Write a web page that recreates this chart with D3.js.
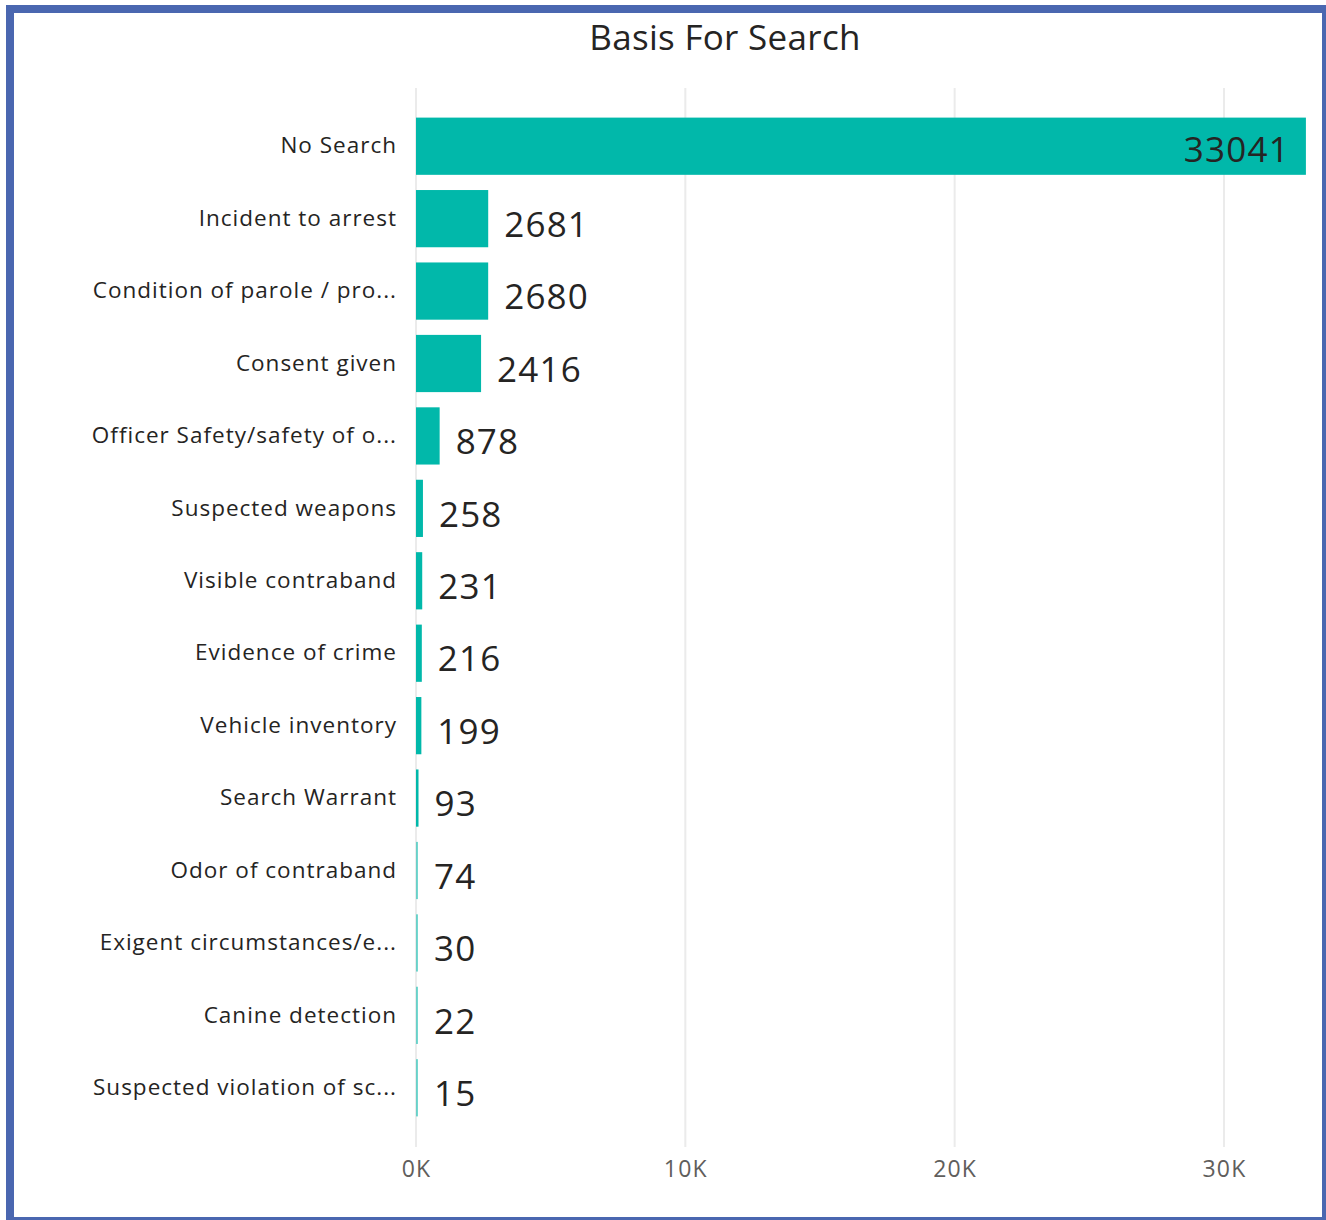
<!DOCTYPE html>
<html><head><meta charset="utf-8">
<script src="https://cdn.jsdelivr.net/npm/d3@7"></script>
<style>
html,body{margin:0;padding:0;background:#fff;}
svg{display:block;font-family:"Segoe UI","Open Sans","Noto Sans",sans-serif;}
</style></head>
<body>
<svg id="chart" width="1326" height="1220"></svg>
<script>
const categories = ["No Search","Incident to arrest","Condition of parole / pro...","Consent given","Officer Safety/safety of o...","Suspected weapons","Visible contraband","Evidence of crime","Vehicle inventory","Search Warrant","Odor of contraband","Exigent circumstances/e...","Canine detection","Suspected violation of sc..."];
const values = [33041,2681,2680,2416,878,258,231,216,199,93,74,30,22,15];
const tickValues = [0,10000,20000,30000];
const tickLabels = ["0K","10K","20K","30K"];
const title = "Basis For Search";

const svg = d3.select("#chart");
const FF = "'Segoe UI','Open Sans','Noto Sans',sans-serif";

// frame
svg.append("rect").attr("x",10).attr("y",9).attr("width",1316).attr("height",1212)
  .attr("fill","none").attr("stroke","#4a67b0").attr("stroke-width",8);

svg.append("text").attr("x",725).attr("y",50).attr("text-anchor","middle")
  .attr("font-size",35).attr("fill","#252423").attr("letter-spacing",0.3).text(title);

const x = d3.scaleLinear().domain([0,30000]).range([416,1224]);
const y = d3.scaleBand().domain(categories).range([110,1124]).paddingInner(0.21).paddingOuter(0.105);

// gridlines
svg.append("g").selectAll("line").data(tickValues).join("line")
  .attr("x1",d=>x(d)).attr("x2",d=>x(d)).attr("y1",88).attr("y2",1147)
  .attr("stroke","#ebebeb").attr("stroke-width",2);

// x axis labels
const xAxis = d3.axisBottom(x).tickValues(tickValues).tickFormat((d,i)=>tickLabels[i]).tickSize(0).tickPadding(0);
const gx = svg.append("g").attr("transform","translate(0,1154)").call(xAxis);
gx.select(".domain").remove();
gx.selectAll("text").attr("font-size",23).attr("fill","#605e5c").attr("dy","1.0em")
  .attr("letter-spacing",1.2).style("font-family",FF);

// y axis labels
const yAxis = d3.axisLeft(y).tickSize(0).tickPadding(0);
const gy = svg.append("g").attr("transform","translate(397,0)").call(yAxis);
gy.select(".domain").remove();
gy.selectAll("text").attr("font-size",22.5).attr("fill","#252423")
  .attr("letter-spacing",1.0).style("font-family",FF);

// bars
const data = categories.map((c,i)=>({c, v: values[i]}));
svg.append("g").selectAll("rect").data(data).join("rect")
  .attr("x",x(0)).attr("y",d=>y(d.c)).attr("height",y.bandwidth())
  .attr("width",d=>Math.max(x(d.v)-x(0),2))
  .attr("fill","#01b8aa")
  .attr("opacity",d=>(x(d.v)-x(0))<2 ? 0.55 : 1);

// value labels
svg.append("g").selectAll("text").data(data).join("text")
  .attr("x",d=> d.v>20000 ? x(d.v)-16 : Math.max(x(d.v),x(0)+2)+16)
  .attr("y",d=>y(d.c)+y.bandwidth()/2 + (d.v>20000 ? 4 : 6))
  .attr("dy","0.35em")
  .attr("text-anchor",d=> d.v>20000 ? "end" : "start")
  .attr("font-size",35).attr("fill","#252423").attr("letter-spacing",1.2)
  .text(d=>d.v);
</script>
</body></html>
